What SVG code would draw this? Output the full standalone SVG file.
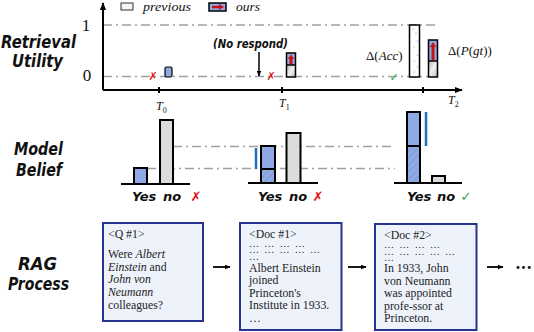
<svg xmlns="http://www.w3.org/2000/svg" width="534" height="332" viewBox="0 0 534 332">
<defs>
<style>
.hand{font-family:"DejaVu Sans",sans-serif;font-style:italic;fill:#111}
.lbl{font-size:17px;font-weight:600}
.yn{font-size:13px;font-weight:600}
.serif{font-family:"Liberation Serif",serif;fill:#111}
.doc{font-family:"Liberation Serif",serif;font-size:11.8px;fill:#222}
.dots{font-family:"Liberation Serif",serif;font-size:10px;fill:#222}
.ax{stroke:#000;stroke-width:2;fill:none}
.dash{stroke:#a0a0a0;stroke-width:1.5;stroke-dasharray:9 4 2 4;fill:none}
.blue{fill:#8eaae2;stroke:#000;stroke-width:2}
.hb{fill:url(#hatch);stroke:#000;stroke-width:2}
.gray{fill:#dcdcdc;stroke:#000;stroke-width:2}
.base{stroke:#000;stroke-width:2}
.mark{stroke:#1f6fc0;stroke-width:2.5}
.box{fill:#eef3fb;stroke:#26348f;stroke-width:2}
.sym{font-family:"DejaVu Sans",sans-serif;font-weight:bold}
.redf{fill:#e01010}
.greenf{fill:#1faa50}
.rarrow{stroke:#c81010;stroke-width:3}
.dot{fill:#6a86d0}
</style>
<pattern id="hatch" patternUnits="userSpaceOnUse" width="5" height="5" patternTransform="rotate(45)">
<rect width="5" height="5" fill="#8eaae2"/>
<line x1="0" y1="0" x2="0" y2="5" stroke="#7a95cf" stroke-width="1.5"/>
</pattern>
<linearGradient id="gstripe" x1="0" y1="0" x2="1" y2="1">
<stop offset="0" stop-color="#b8b8b8"/>
<stop offset="0.5" stop-color="#f2f2f2"/>
<stop offset="1" stop-color="#b8b8b8"/>
</linearGradient>
<marker id="ah" viewBox="0 0 10 10" refX="9" refY="5" markerWidth="8" markerHeight="8" markerUnits="userSpaceOnUse" orient="auto">
<path d="M0,1 L10,5 L0,9 z" fill="#000"/>
</marker>
<marker id="ahs" viewBox="0 0 10 10" refX="9" refY="5" markerWidth="6" markerHeight="6" markerUnits="userSpaceOnUse" orient="auto">
<path d="M0,1 L10,5 L0,9 z" fill="#000"/>
</marker>
</defs>
<rect width="534" height="332" fill="#fff"/>

<!-- Row labels -->
<g id="label-retrieval">
<text class="hand lbl" x="1" y="48" textLength="75" lengthAdjust="spacingAndGlyphs">Retrieval</text>
<text class="hand lbl" x="12" y="67" textLength="51" lengthAdjust="spacingAndGlyphs">Utility</text>
</g>
<g id="label-belief">
<text class="hand lbl" x="14" y="155" textLength="49" lengthAdjust="spacingAndGlyphs">Model</text>
<text class="hand lbl" x="16" y="176" textLength="46" lengthAdjust="spacingAndGlyphs">Belief</text>
</g>
<g id="label-rag">
<text class="hand lbl" x="18" y="270" textLength="39" lengthAdjust="spacingAndGlyphs">RAG</text>
<text class="hand lbl" x="8" y="290" textLength="61" lengthAdjust="spacingAndGlyphs">Process</text>
</g>

<!-- Top chart -->
<g id="utility-axes">
<line class="dash" x1="103" y1="25" x2="435" y2="25"/>
<line class="dash" x1="103" y1="76.5" x2="430" y2="76.5"/>
<line class="ax" x1="103" y1="90" x2="103" y2="3" marker-end="url(#ah)"/>
<line class="ax" x1="103" y1="90" x2="462" y2="90" marker-end="url(#ah)"/>
<line class="base" x1="159" y1="87" x2="159" y2="93"/>
<line class="base" x1="282" y1="87" x2="282" y2="93"/>
<line class="base" x1="423" y1="87" x2="423" y2="93"/>
<text class="serif" x="86" y="31" font-size="17" text-anchor="middle">1</text>
<text class="serif" x="87" y="81" font-size="17" text-anchor="middle">0</text>
<text class="serif" x="156" y="110" font-size="12" font-style="italic">T<tspan font-size="8" font-style="normal" dy="2.5">0</tspan></text>
<text class="serif" x="279" y="107" font-size="12" font-style="italic">T<tspan font-size="8" font-style="normal" dy="2.5">1</tspan></text>
<text class="serif" x="448" y="104" font-size="12" font-style="italic">T<tspan font-size="8" font-style="normal" dy="2.5">2</tspan></text>
</g>

<g id="legend">
<rect x="121" y="3" width="12" height="7" fill="#f6f6f6" stroke="#333" stroke-width="1"/>
<text class="serif" x="143" y="11" font-size="12.5" font-style="italic" textLength="48" lengthAdjust="spacingAndGlyphs">previous</text>
<rect x="209" y="3" width="17" height="8" fill="#8eaae2" stroke="#000" stroke-width="1.5"/>
<line x1="212" y1="7" x2="220" y2="7" stroke="#c81010" stroke-width="2.5"/>
<path d="M219,4 L224,7 L219,10 z" fill="#c81010"/>
<text class="serif" x="236" y="11" font-size="12.5" font-style="italic" textLength="24" lengthAdjust="spacingAndGlyphs">ours</text>
</g>

<g id="t0-utility">
<text class="sym redf" x="153" y="80" font-size="11" text-anchor="middle">✗</text>
<rect x="165" y="67" width="7" height="10" rx="1.5" fill="#8eaae2" stroke="#000" stroke-width="1.2"/>
</g>

<g id="t1-utility">
<text class="hand" x="213" y="48" font-size="11.5" font-weight="600" textLength="75" lengthAdjust="spacingAndGlyphs">(No respond)</text>
<line x1="259" y1="52" x2="259" y2="76" stroke="#000" stroke-width="1.5" marker-end="url(#ahs)"/>
<text class="sym redf" x="271" y="80" font-size="11" text-anchor="middle">✗</text>
<rect x="286.5" y="53" width="9" height="12" fill="#8eaae2"/>
<rect x="286.5" y="65" width="9" height="12" fill="url(#gstripe)"/>
<rect x="286.5" y="53" width="9" height="24" fill="none" stroke="#000" stroke-width="1.5"/>
<line x1="286.5" y1="65" x2="295.5" y2="65" stroke="#000" stroke-width="1.5"/>
<line class="rarrow" x1="291" y1="64" x2="291" y2="58"/>
<path d="M287.8,59 L291,54.5 L294.2,59 z" fill="#c81010"/>
</g>

<g id="t2-utility">
<text class="serif" x="366" y="60" font-size="13">Δ(<tspan font-style="italic">Acc</tspan>)</text>
<text class="sym greenf" x="394" y="81" font-size="11" text-anchor="middle">✓</text>
<rect x="409.5" y="25" width="10" height="52" fill="#fff" stroke="#000" stroke-width="1.5"/>
<circle class="dot" cx="413" cy="29" r="0.6"/>
<circle class="dot" cx="416" cy="33" r="0.6"/>
<circle class="dot" cx="417.5" cy="41" r="0.6"/>
<circle class="dot" cx="414" cy="47" r="0.6"/>
<circle class="dot" cx="417.5" cy="55" r="0.6"/>
<circle class="dot" cx="414" cy="61" r="0.6"/>
<circle class="dot" cx="417.5" cy="67" r="0.6"/>
<circle class="dot" cx="414" cy="72" r="0.6"/>
<rect x="428.5" y="40" width="9" height="21" fill="#8eaae2"/>
<rect x="428.5" y="61" width="9" height="16" fill="url(#gstripe)"/>
<rect x="428.5" y="40" width="9" height="37" fill="none" stroke="#000" stroke-width="1.5"/>
<line x1="428.5" y1="61" x2="437.5" y2="61" stroke="#000" stroke-width="1.5"/>
<line class="rarrow" x1="433" y1="60" x2="433" y2="46"/>
<path d="M429.8,47 L433,42 L436.2,47 z" fill="#c81010"/>
<text class="serif" x="448" y="55" font-size="13">Δ(<tspan font-style="italic">P</tspan>(<tspan font-style="italic">gt</tspan>))</text>
</g>

<!-- Middle chart -->
<g id="belief-guides">
<line class="dash" x1="173" y1="146.5" x2="392" y2="146.5"/>
<line class="dash" x1="147" y1="168.5" x2="395" y2="168.5"/>
</g>

<g id="t0-belief">
<line class="base" x1="121" y1="184" x2="190" y2="184"/>
<rect class="blue" x="134" y="168" width="13" height="16"/>
<rect class="gray" x="160" y="120" width="13" height="64"/>
<text class="hand yn" x="132" y="201">Yes</text>
<text class="hand yn" x="163" y="201">no</text>
<text class="sym redf" x="196" y="201" font-size="13" text-anchor="middle">✗</text>
</g>

<g id="t1-belief">
<line class="base" x1="248" y1="183" x2="318" y2="183"/>
<rect class="blue" x="261" y="146" width="14" height="23"/>
<rect class="hb" x="261" y="169" width="14" height="14"/>
<line class="mark" x1="256" y1="148" x2="256" y2="169"/>
<rect class="gray" x="286.5" y="133" width="14" height="50"/>
<text class="hand yn" x="258" y="201">Yes</text>
<text class="hand yn" x="289" y="201">no</text>
<text class="sym redf" x="318" y="201" font-size="13" text-anchor="middle">✗</text>
</g>

<g id="t2-belief">
<line class="base" x1="394" y1="183" x2="462" y2="183"/>
<rect class="blue" x="407" y="112" width="13" height="34"/>
<rect class="hb" x="407" y="146" width="13" height="37"/>
<line class="mark" x1="426" y1="112" x2="426" y2="146"/>
<rect class="gray" x="432" y="176" width="13" height="7"/>
<text class="hand yn" x="407" y="201">Yes</text>
<text class="hand yn" x="437" y="201">no</text>
<text class="sym greenf" x="466" y="201" font-size="13" text-anchor="middle">✓</text>
</g>

<!-- Bottom: RAG process -->
<g id="query-box">
<rect class="box" x="103" y="223" width="100" height="98"/>
<text class="doc" x="108" y="237.5">&lt;Q #1&gt;</text>
<text class="doc" x="108" y="258">Were <tspan font-style="italic">Albert</tspan></text>
<text class="doc" x="108" y="270.7"><tspan font-style="italic">Einstein</tspan> and</text>
<text class="doc" x="108" y="283.4" font-style="italic">John von</text>
<text class="doc" x="108" y="296.1" font-style="italic">Neumann</text>
<text class="doc" x="108" y="308.8">colleagues?</text>
</g>

<g id="doc1-box">
<rect class="box" x="240" y="223" width="101.5" height="107"/>
<text class="doc" x="249" y="237.5">&lt;Doc #1&gt;</text>
<text class="dots" x="249" y="246.5" textLength="56" lengthAdjust="spacing">… … … …</text>
<text class="dots" x="249" y="253" textLength="71" lengthAdjust="spacing">… … … … …</text>
<text class="dots" x="249" y="259.5">…</text>
<text class="doc" x="249" y="271.5">Albert Einstein</text>
<text class="doc" x="249" y="284">joined</text>
<text class="doc" x="249" y="296.5">Princeton's</text>
<text class="doc" x="249" y="309">Institute in 1933.</text>
<text class="doc" x="249" y="321.5">…</text>
</g>

<g id="doc2-box">
<rect class="box" x="375" y="224" width="101.5" height="106"/>
<text class="doc" x="384" y="239">&lt;Doc #2&gt;</text>
<text class="dots" x="384" y="248" textLength="56" lengthAdjust="spacing">… … … …</text>
<text class="dots" x="384" y="254.5" textLength="71" lengthAdjust="spacing">… … … … …</text>
<text class="dots" x="384" y="261">…</text>
<text class="doc" x="384" y="272">In 1933, John</text>
<text class="doc" x="384" y="284.5">von Neumann</text>
<text class="doc" x="384" y="297">was appointed</text>
<text class="doc" x="384" y="309.5">profe-ssor at</text>
<text class="doc" x="384" y="322">Princeton.</text>
</g>

<g id="connectors">
<line x1="213" y1="267" x2="230" y2="267" stroke="#000" stroke-width="1.8" marker-end="url(#ahs)"/>
<line x1="348" y1="267" x2="366" y2="267" stroke="#000" stroke-width="1.8" marker-end="url(#ahs)"/>
<line x1="487" y1="267" x2="503" y2="267" stroke="#000" stroke-width="1.8" marker-end="url(#ahs)"/>
</g>
<g id="more">
<text x="515" y="271" font-family="DejaVu Sans,sans-serif" font-size="10" letter-spacing="-0.3" fill="#111">•••</text>
</g>
</svg>
